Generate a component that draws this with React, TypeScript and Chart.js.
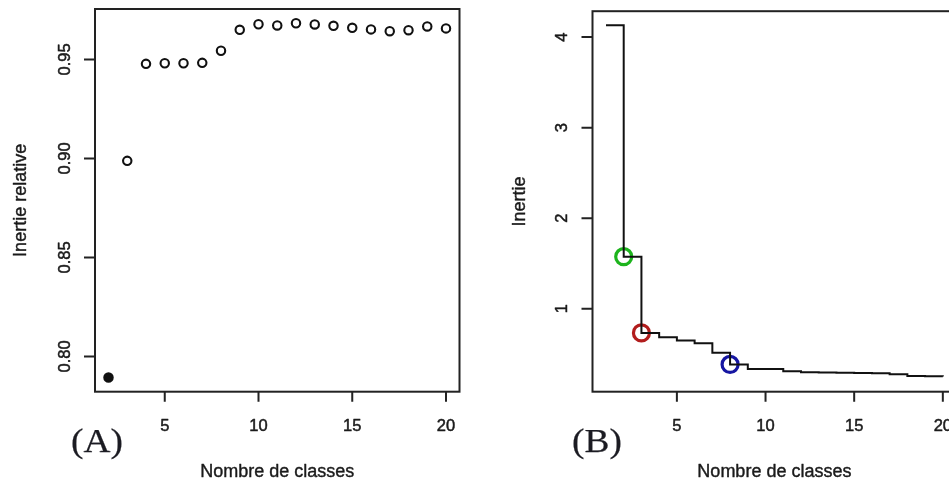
import React, { useEffect, useRef } from "react";
import { Chart, registerables } from "chart.js";

Chart.register(...registerables);

// ---------- Data ----------
// Panel A: relative inertia by number of classes
const classesA = [2, 3, 4, 5, 6, 7, 8, 9, 10, 11, 12, 13, 14, 15, 16, 17, 18, 19, 20];
const relativeInertia = [
  0.7894, 0.8988, 0.9478, 0.9481, 0.9481, 0.9483, 0.9544, 0.965, 0.9678, 0.9672,
  0.9683, 0.9677, 0.967, 0.966, 0.9652, 0.9643, 0.9648, 0.9667, 0.9657,
];
const filledClassA = 2;
const xTicks = [5, 10, 15, 20];
const xTickLabels = ["5", "10", "15", "20"];
const yTicksA = [0.8, 0.85, 0.9, 0.95];
const yTickLabelsA = ["0.80", "0.85", "0.90", "0.95"];

// Panel B: inertia (step curve) by number of classes
const classesB = [1, 2, 3, 4, 5, 6, 7, 8, 9, 10, 11, 12, 13, 14, 15, 16, 17, 18, 19, 20];
const inertia = [
  4.13, 1.575, 0.733, 0.685, 0.65, 0.618, 0.515, 0.385, 0.335, 0.333,
  0.308, 0.298, 0.295, 0.292, 0.29, 0.287, 0.275, 0.257, 0.255, 0.25,
];
const yTicksB = [1, 2, 3, 4];
const yTickLabelsB = ["1", "2", "3", "4"];
const markedClassesB = [2, 3, 8];
const markedColorsB = ["#1db41d", "#b21d1d", "#1616a2"];

const SANS = '"Liberation Sans", Arial, Helvetica, sans-serif';
const SERIF = '"Liberation Serif", "Times New Roman", serif';

function heavyText(ctx: CanvasRenderingContext2D, text: string, x: number, y: number, w: number) {
  ctx.lineWidth = w;
  ctx.strokeText(text, x, y);
  ctx.fillText(text, x, y);
}

const rAxesPlugin = {
  id: "rAxes",
  afterDraw(chart: any, _args: any, opts: any) {
    const { ctx, chartArea: a, scales } = chart;
    const xs = scales.x;
    const ys = scales.y;
    ctx.save();
    ctx.strokeStyle = "#222";
    ctx.lineWidth = 2;
    ctx.strokeRect(a.left, a.top, a.right - a.left, a.bottom - a.top);
    ctx.beginPath();
    opts.xTicks.forEach((v: number) => {
      const px = xs.getPixelForValue(v);
      ctx.moveTo(px, a.bottom);
      ctx.lineTo(px, a.bottom + 10);
    });
    opts.yTicks.forEach((v: number) => {
      const py = ys.getPixelForValue(v);
      ctx.moveTo(a.left, py);
      ctx.lineTo(a.left - 11, py);
    });
    ctx.stroke();

    ctx.fillStyle = "#1a1a1a";
    ctx.strokeStyle = "#1a1a1a";
    ctx.lineJoin = "round";
    ctx.font = `16.5px ${SANS}`;
    ctx.textAlign = "center";
    ctx.textBaseline = "alphabetic";
    opts.xTicks.forEach((v: number, i: number) => {
      heavyText(ctx, opts.xLabels[i], xs.getPixelForValue(v), 431, 0.5);
    });
    opts.yTicks.forEach((v: number, i: number) => {
      ctx.save();
      ctx.translate(a.left - opts.yTickGap, ys.getPixelForValue(v));
      ctx.rotate(-Math.PI / 2);
      heavyText(ctx, opts.yLabels[i], 0, 0, 0.5);
      ctx.restore();
    });

    ctx.font = `18px ${SANS}`;
    heavyText(ctx, opts.xTitle, (a.left + a.right) / 2, 476.5, 0.4);
    ctx.save();
    ctx.translate(a.left - opts.yTitleGap, (a.top + a.bottom) / 2);
    ctx.rotate(-Math.PI / 2);
    heavyText(ctx, opts.yTitle, 0, 0, 0.4);
    ctx.restore();

    ctx.save();
    ctx.font = `34px ${SERIF}`;
    ctx.textAlign = "left";
    ctx.translate(opts.letterX, 452);
    ctx.scale(1.1, 1);
    ctx.fillStyle = "#1b1b22";
    ctx.strokeStyle = "#1b1b22";
    heavyText(ctx, opts.letter, 0, 0, 0.25);
    ctx.restore();
    ctx.restore();
  },
};

function PanelA() {
  const ref = useRef<HTMLCanvasElement>(null);
  useEffect(() => {
    if (!ref.current) return;
    const chart = new Chart(ref.current, {
      type: "scatter",
      data: {
        datasets: [
          {
            data: classesA.map((c, i) => ({ x: c, y: relativeInertia[i] })),
            pointRadius: 4.2,
            pointBorderWidth: 2.1,
            pointBorderColor: "#111",
            pointBackgroundColor: classesA.map((c) => (c === filledClassA ? "#111" : "rgba(0,0,0,0)")),
            showLine: false,
          },
        ],
      },
      options: {
        responsive: false,
        animation: false,
        devicePixelRatio: 1,
        events: [],
        layout: { padding: { left: 95, top: 9, right: 15.5, bottom: 90.3 } },
        scales: {
          x: { type: "linear", display: false, min: 1.28, max: 20.72 },
          y: { type: "linear", display: false, min: 0.7822, max: 0.9755 },
        },
        plugins: {
          legend: { display: false },
          tooltip: { enabled: false },
          rAxes: {
            xTicks,
            xLabels: xTickLabels,
            yTicks: yTicksA,
            yLabels: yTickLabelsA,
            yTickGap: 25,
            yTitleGap: 69,
            xTitle: "Nombre de classes",
            yTitle: "Inertie relative",
            letter: "(A)",
            letterX: 71,
          },
        } as any,
      },
      plugins: [rAxesPlugin],
    });
    return () => chart.destroy();
  }, []);
  return (
    <canvas
      ref={ref}
      width={475}
      height={482}
      style={{ position: "absolute", left: 0, top: 0, width: 475, height: 482, display: "block" }}
    />
  );
}

function PanelB() {
  const ref = useRef<HTMLCanvasElement>(null);
  useEffect(() => {
    if (!ref.current) return;
    const chart = new Chart(ref.current, {
      type: "scatter",
      data: {
        datasets: [
          {
            data: classesB.map((c, i) => ({ x: c, y: inertia[i] })),
            showLine: true,
            stepped: "before",
            borderColor: "#111",
            borderWidth: 2,
            pointRadius: 0,
            fill: false,
          } as any,
          {
            data: markedClassesB.map((c) => ({ x: c, y: inertia[classesB.indexOf(c)] })),
            showLine: false,
            pointRadius: 8,
            pointBorderWidth: 3.2,
            pointBorderColor: markedColorsB,
            pointBackgroundColor: "rgba(0,0,0,0)",
          },
        ],
      },
      options: {
        responsive: false,
        animation: false,
        devicePixelRatio: 1,
        events: [],
        layout: { padding: { left: 117.5, top: 9.3, right: 18.7, bottom: 90.3 } },
        scales: {
          x: { type: "linear", display: false, min: 0.24, max: 20.76 },
          y: { type: "linear", display: false, min: 0.0835, max: 4.286 },
        },
        plugins: {
          legend: { display: false },
          tooltip: { enabled: false },
          rAxes: {
            xTicks,
            xLabels: xTickLabels,
            yTicks: yTicksB,
            yLabels: yTickLabelsB,
            yTickGap: 25.5,
            yTitleGap: 67.5,
            xTitle: "Nombre de classes",
            yTitle: "Inertie",
            letter: "(B)",
            letterX: 97,
          },
        } as any,
      },
      plugins: [rAxesPlugin],
    });
    return () => chart.destroy();
  }, []);
  return (
    <canvas
      ref={ref}
      width={500}
      height={482}
      style={{ position: "absolute", left: 475, top: 0, width: 500, height: 482, display: "block" }}
    />
  );
}

export default function App() {
  return (
    <div
      style={{
        position: "fixed",
        left: 0,
        top: 0,
        width: 949,
        height: 482,
        overflow: "hidden",
        background: "#fff",
      }}
    >
      <PanelA />
      <PanelB />
    </div>
  );
}
